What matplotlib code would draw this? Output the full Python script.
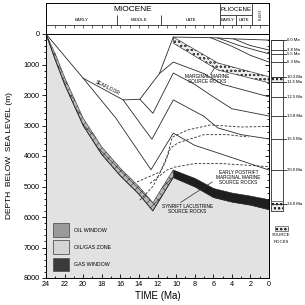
import matplotlib
matplotlib.use("Agg")
import matplotlib.pyplot as plt
import numpy as np

plt.rcParams["font.family"] = ["Liberation Sans", "DejaVu Sans"]
plt.rcParams["hatch.linewidth"] = 0.4

# --- burial history data (time in Ma, depth in m) ---
basement_t = [24, 23, 22, 20, 18, 16, 14, 12.5, 10.3, 8, 6, 4, 2, 0]
basement_d = [0, 850, 1650, 3000, 3950, 4650, 5250, 5800, 4700, 5000, 5350, 5500, 5600, 5750]
synrift_t = [24, 23, 22, 20, 18, 16, 14, 12.5, 10.3]
synrift_top = [0, 650, 1420, 2760, 3700, 4400, 5000, 5530, 4450]
gas_t = [10.3, 8, 6, 4, 2, 0]
gas_top = [4450, 4720, 5050, 5200, 5300, 5420]
gas_bot = [4700, 5000, 5350, 5500, 5600, 5750]

seafloor_t = [24, 20, 15.7, 13.9, 11.8, 10.3, 6.3, 5.5, 3.8, 0]
seafloor_d = [0, 1450, 2160, 2140, 1300, 100, 120, 130, 160, 200]

marine_t = [10.3, 5.5, 0]
marine_top = [100, 950, 1400]
marine_bot = [300, 1180, 1600]

horizons = {
    "20.0": ([20, 16.5, 12.7, 10.3, 8, 5, 0], [1450, 2750, 4450, 3250, 3650, 3950, 4460]),
    "15.5": ([15.7, 13.7, 12.6, 10.3, 7, 5.5, 3, 0], [2160, 3000, 3450, 2160, 2700, 3080, 3300, 3440]),
    "13.8": ([13.9, 12.5, 10.3, 8, 6.3, 4, 0], [2140, 2600, 1280, 1650, 2000, 2450, 2690]),
    "12.5": ([11.8, 10.3, 7, 5, 0], [1300, 920, 1300, 1650, 2060]),
    "6.3": ([6.3, 4, 2, 0], [120, 400, 700, 920]),
    "5.5": ([5.5, 3, 0], [130, 400, 650]),
    "3.8": ([3.8, 2, 0], [160, 380, 525]),
}
dashed_lines = [
    ([14.2, 11.7, 11.0, 10.4, 8.8, 6.3, 3, 0], [4850, 4520, 4030, 3380, 3150, 2980, 3050, 3030]),
    ([13.9, 12.5, 11.2, 10.6, 9.8, 7, 4.5, 2.2], [5450, 5000, 4230, 3740, 3570, 3300, 3300, 3380]),
    ([12.8, 11, 10.1, 8, 5, 0], [4900, 4460, 4360, 4250, 4250, 4350]),
]

# present-day stratigraphic column
column_ages = ["0.0", "3.8", "5.5", "6.3", "10.3", "11.6", "12.5", "13.8", "15.5", "20.0", "24.0"]
column_depths = [200, 525, 650, 920, 1400, 1570, 2060, 2690, 3440, 4460, 5570]

legend_labels = ["OIL WINDOW", "OIL/GAS ZONE", "GAS WINDOW"]
legend_colors = ["#9a9a9a", "#d4d4d4", "#3a3a3a"]

epochs = [("MIOCENE", 24, 5.3), ("PLIOCENE", 5.3, 1.8)]
stages = [("EARLY", 24, 16.4), ("MIDDLE", 16.4, 11.6), ("LATE", 11.6, 5.3),
          ("EARLY", 5.3, 3.6), ("LATE", 3.6, 1.8)]

LC = "#2a2a2a"
fig = plt.figure(figsize=(3.05, 3.05), dpi=100)
ax = fig.add_axes([46 / 305, 1 - 278 / 305, 223 / 305, 244 / 305])
hdr = fig.add_axes([46 / 305, 1 - 34 / 305, 223 / 305, 31 / 305])

ax.set_xlim(24, 0)
ax.set_ylim(8000, 0)

# basement and source rock bands
ax.fill_between(basement_t, basement_d, 8000, color="#e2e2e2", linewidth=0)
ax.fill_between(synrift_t, synrift_top, basement_d[:9], facecolor="#b8b8b8",
                edgecolor="#303030", hatch="xxxx", linewidth=0.4)
ax.fill_between(gas_t, gas_top, gas_bot, color="#1e1e1e", linewidth=0.4)
ax.fill_between(marine_t, marine_top, marine_bot, facecolor="#eeeeee",
                edgecolor="#404040", hatch="oooo", linewidth=0.5)
ax.plot(basement_t, basement_d, color=LC, lw=0.6)

ax.plot(seafloor_t, seafloor_d, color=LC, lw=0.6)
for t, d in horizons.values():
    ax.plot(t, d, color=LC, lw=0.6)
for t, d in dashed_lines:
    ax.plot(t, d, color=LC, lw=0.6, dashes=(3, 2))

# annotations
ax.text(17.4, 1770, "SEAFLOOR", fontsize=3.6, rotation=-27, ha="center", va="center")
ax.text(6.7, 1480, "MARGINAL MARINE\nSOURCE ROCKS", fontsize=3.4, ha="center",
        va="center", linespacing=1.0)
ax.plot([6.3, 5.8], [1330, 1080], color=LC, lw=0.5)
ax.text(3.3, 4720, "EARLY POSTRIFT\nMARGINAL MARINE\nSOURCE ROCKS", fontsize=3.4,
        ha="center", va="center", linespacing=1.0)
ax.text(8.8, 5740, "SYNRIFT LACUSTRINE\nSOURCE ROCKS", fontsize=3.4, ha="center",
        va="center", linespacing=1.0)
ax.plot([9.5, 6.1], [5520, 4850], color=LC, lw=0.5)

# legend boxes
for i, (lab, col) in enumerate(zip(legend_labels, legend_colors)):
    y0 = 6200 + i * 570
    ax.add_patch(plt.Rectangle((23.25, y0), -1.75, 440, facecolor=col,
                               edgecolor="#555555", lw=0.6))
    ax.text(21.0, y0 + 230, lab, fontsize=3.8, va="center", ha="left")

# present-day column on the right
cx0, cx1 = -0.2, -1.5
ax.add_patch(plt.Rectangle((cx0, 200), cx1 - cx0, 5600, facecolor="white",
                           edgecolor=LC, lw=0.6, clip_on=False))
ax.add_patch(plt.Rectangle((cx0, 1400), cx1 - cx0, 170, facecolor="#eeeeee",
                           edgecolor=LC, hatch="oooo", lw=0.4, clip_on=False))
ax.add_patch(plt.Rectangle((cx0, 5480), cx1 - cx0, 320, facecolor="#eeeeee",
                           edgecolor=LC, hatch="oooo", lw=0.4, clip_on=False))
for age, d in zip(column_ages, column_depths):
    ax.plot([cx0, cx1 - 0.3], [d, d], color=LC, lw=0.6, clip_on=False)
    ax.text(-1.95, d, f"{age} Ma", fontsize=3.1, va="center", ha="left",
            clip_on=False)
ax.add_patch(plt.Rectangle((-0.65, 6300), -1.4, 170, facecolor="#eeeeee",
                           edgecolor=LC, hatch="oooo", lw=0.4, clip_on=False))
ax.text(-1.35, 6590, "SOURCE", fontsize=3.1, ha="center", va="center")
ax.text(-1.35, 6810, "ROCKS", fontsize=3.1, ha="center", va="center")

# axes styling
ax.set_xticks(np.arange(0, 25, 2))
ax.set_xticks(np.arange(0, 25, 1), minor=True)
ax.set_yticks(np.arange(0, 8001, 1000))
ax.set_yticks(np.arange(0, 8001, 200), minor=True)
ax.tick_params(axis="x", which="both", direction="in", width=0.6, labelsize=5.2, pad=2)
ax.tick_params(axis="x", which="major", length=3)
ax.tick_params(axis="x", which="minor", length=1.5)
ax.tick_params(axis="y", which="both", direction="out", width=0.6, labelsize=5.2, pad=1.5)
ax.tick_params(axis="y", which="major", length=3)
ax.tick_params(axis="y", which="minor", length=1.5)
sec = ax.secondary_yaxis("right")
sec.set_yticks(np.arange(0, 8001, 1000))
sec.set_yticks(np.arange(0, 8001, 200), minor=True)
sec.tick_params(which="both", direction="in", width=0.6, labelright=False)
sec.tick_params(which="major", length=3)
sec.tick_params(which="minor", length=1.5)
for s in ax.spines.values():
    s.set_linewidth(0.7)
sec.spines["right"].set_linewidth(0.7)
ax.set_xlabel("TIME (Ma)", fontsize=7, labelpad=2)
ax.set_ylabel("DEPTH  BELOW  SEA LEVEL (m)", fontsize=6, labelpad=8)

# geologic timescale header
hdr.set_xlim(24, 0)
hdr.set_ylim(0, 1)
hdr.set_xticks([])
hdr.set_yticks([])
hdr.spines["bottom"].set_visible(False)
for s in ["top", "left", "right"]:
    hdr.spines[s].set_linewidth(0.7)
hdr.axhline(0.29, color=LC, lw=0.6)
hdr.vlines(np.arange(1, 24, 1), 0.19, 0.29, color=LC, lw=0.5)
hdr.vlines([5.3], 0.29, 1.0, color=LC, lw=0.6)
hdr.vlines([1.8], 0.29, 1.0, color=LC, lw=0.6)
hdr.vlines([16.4, 11.6], 0.29, 0.6, color=LC, lw=0.6)
hdr.vlines([3.6], 0.29, 0.6, color=LC, lw=0.6)
hdr.hlines(0.6, 5.3, 1.8, color=LC, lw=0.6)
for name, a, b in epochs:
    hdr.text((a + b) / 2, 0.8, name, fontsize=6 if name == "MIOCENE" else 4.4,
             ha="center", va="center")
for name, a, b in stages:
    hdr.text((a + b) / 2, 0.45, name, fontsize=3.2, ha="center", va="center")
hdr.text(0.9, 0.64, "PLEIST.", fontsize=2.4, rotation=90, ha="center", va="center")

fig.savefig("out.png", dpi=100)
